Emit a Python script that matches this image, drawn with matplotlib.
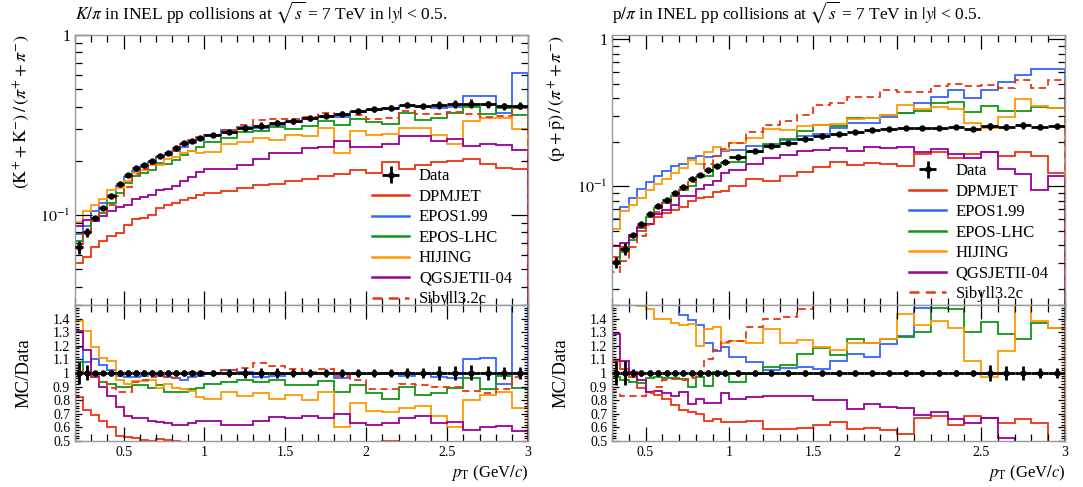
import numpy as np
import matplotlib
matplotlib.use("Agg")
import matplotlib.pyplot as plt
from matplotlib.lines import Line2D
from matplotlib.ticker import MultipleLocator, FuncFormatter, NullFormatter, LogLocator

plt.rcParams['font.family'] = 'serif'
plt.rcParams['font.serif'] = ['Liberation Serif', 'DejaVu Serif']
plt.rcParams['mathtext.fontset'] = 'stix'

# ---- K/pi panel ----
edges_k = [0.20, 0.25, 0.30, 0.35, 0.40, 0.45, 0.50, 0.55, 0.60, 0.65, 0.70, 0.75,
           0.80, 0.85, 0.90, 0.95, 1.0, 1.1, 1.2, 1.3, 1.4, 1.5, 1.6, 1.7, 1.8, 1.9,
           2.0, 2.1, 2.2, 2.3, 2.4, 2.5, 2.6, 2.7, 2.8, 2.9, 3.0]
data_k = [0.066, 0.080, 0.096, 0.110, 0.127, 0.148, 0.167, 0.182, 0.189, 0.199, 0.214, 0.222,
          0.235, 0.250, 0.259, 0.268, 0.278, 0.289, 0.305, 0.314, 0.324, 0.331, 0.345, 0.356,
          0.366, 0.377, 0.387, 0.395, 0.410, 0.402, 0.407, 0.413, 0.416, 0.412, 0.402, 0.405]
relerr_k = [0.08, 0.055, 0.015, 0.015, 0.02, 0.025, 0.025, 0.025, 0.025, 0.025, 0.025, 0.025,
            0.025, 0.025, 0.025, 0.025, 0.025, 0.03, 0.04, 0.04, 0.04, 0.03, 0.03, 0.03,
            0.03, 0.03, 0.03, 0.03, 0.035, 0.035, 0.05, 0.05, 0.055, 0.05, 0.045, 0.045]
dpmjet_k = [0.0541, 0.0584, 0.0662, 0.0715, 0.0762, 0.0799, 0.0885, 0.0946, 0.0964, 0.0995, 0.110, 0.113,
            0.117, 0.121, 0.124, 0.129, 0.133, 0.136, 0.142, 0.146, 0.149, 0.154, 0.159, 0.164,
            0.169, 0.178, 0.171, 0.196, 0.179, 0.190, 0.198, 0.200, 0.205, 0.192, 0.182, 0.180]
epos199_k = [0.0785, 0.0864, 0.1056, 0.1166, 0.1295, 0.145, 0.162, 0.1765, 0.1852, 0.197, 0.2097, 0.2153,
             0.2256, 0.2375, 0.2512, 0.2626, 0.278, 0.2948, 0.308, 0.3046, 0.3175, 0.3277, 0.345, 0.356,
             0.3514, 0.3732, 0.3831, 0.395, 0.4018, 0.398, 0.3948, 0.3965, 0.4576, 0.4573, 0.3698, 0.6116]
eposlhc_k = [0.0713, 0.080, 0.096, 0.1023, 0.1168, 0.1332, 0.1503, 0.1656, 0.172, 0.1771, 0.195, 0.1909,
             0.2021, 0.215, 0.2279, 0.2385, 0.2558, 0.2688, 0.2898, 0.292, 0.3078, 0.3012, 0.314, 0.3346,
             0.3148, 0.3431, 0.329, 0.32, 0.369, 0.3377, 0.346, 0.3676, 0.3994, 0.3626, 0.392, 0.3605]
hijing_k = [0.0911, 0.1048, 0.1142, 0.1221, 0.1384, 0.1406, 0.1536, 0.1711, 0.1777, 0.1891, 0.1905, 0.2042,
            0.2092, 0.220, 0.2253, 0.2198, 0.2252, 0.2485, 0.2532, 0.2669, 0.2624, 0.278, 0.276, 0.3062,
            0.2196, 0.2941, 0.2786, 0.2805, 0.3034, 0.3055, 0.2768, 0.2478, 0.3328, 0.3461, 0.3457, 0.2997]
qgsjet_k = [0.0865, 0.0936, 0.0931, 0.099, 0.1054, 0.111, 0.1136, 0.1219, 0.1266, 0.1294, 0.137, 0.1399,
            0.1457, 0.155, 0.1632, 0.1742, 0.1807, 0.1792, 0.1891, 0.2041, 0.2203, 0.2218, 0.2346, 0.2385,
            0.2562, 0.2375, 0.2399, 0.2489, 0.2747, 0.2734, 0.2564, 0.2643, 0.2413, 0.2472, 0.2452, 0.2309]
sibyll_k = [0.0686, 0.080, 0.0941, 0.1023, 0.113, 0.1273, 0.1436, 0.1693, 0.1796, 0.193, 0.2097, 0.2153,
            0.2256, 0.2475, 0.2616, 0.2707, 0.278, 0.2948, 0.3172, 0.336, 0.3402, 0.3409, 0.3485, 0.3667,
            0.3587, 0.3582, 0.3406, 0.3476, 0.3772, 0.3658, 0.3663, 0.3717, 0.3619, 0.3502, 0.3538, 0.3929]

# ---- p/pi panel ----
edges_p = [0.30, 0.35, 0.40, 0.45, 0.50, 0.55, 0.60, 0.65, 0.70, 0.75, 0.80, 0.85, 0.90, 0.95,
           1.0, 1.1, 1.2, 1.3, 1.4, 1.5, 1.6, 1.7, 1.8, 1.9, 2.0, 2.1, 2.2, 2.3, 2.4, 2.5,
           2.6, 2.7, 2.8, 2.9, 3.0]
data_p = [0.0305, 0.0377, 0.0464, 0.0556, 0.0647, 0.0740, 0.0808, 0.0897, 0.0994, 0.1114, 0.1192, 0.130,
          0.1386, 0.146, 0.1585, 0.174, 0.187, 0.198, 0.209, 0.220, 0.228, 0.235, 0.241, 0.245,
          0.249, 0.249, 0.251, 0.253, 0.246, 0.256, 0.254, 0.260, 0.254, 0.256]
relerr_p = [0.09, 0.09, 0.03, 0.02, 0.02, 0.02, 0.02, 0.02, 0.02, 0.02, 0.02, 0.02,
            0.02, 0.02, 0.02, 0.02, 0.02, 0.025, 0.025, 0.025, 0.025, 0.025, 0.025, 0.025,
            0.025, 0.025, 0.025, 0.025, 0.025, 0.06, 0.05, 0.05, 0.04, 0.04]
dpmjet_p = [0.0332, 0.0388, 0.045, 0.0495, 0.0556, 0.0622, 0.0654, 0.0686, 0.0726, 0.0797, 0.0834, 0.0845,
            0.0922, 0.0934, 0.1008, 0.1131, 0.1094, 0.1168, 0.1246, 0.1364, 0.1459, 0.1387, 0.1436, 0.1421,
            0.137, 0.1668, 0.1707, 0.1569, 0.1673, 0.1715, 0.160, 0.1716, 0.160, 0.1229]
epos199_p = [0.0601, 0.0724, 0.0835, 0.0956, 0.1074, 0.1184, 0.1269, 0.1372, 0.1421, 0.1548, 0.1609, 0.1586,
             0.1608, 0.1737, 0.1775, 0.1879, 0.1917, 0.2059, 0.2184, 0.2266, 0.2485, 0.2679, 0.2699, 0.2965,
             0.3162, 0.3685, 0.408, 0.454, 0.397, 0.452, 0.509, 0.571, 0.627, 0.630]
eposlhc_p = [0.0296, 0.0358, 0.0432, 0.0517, 0.0621, 0.0718, 0.0776, 0.0861, 0.0949, 0.1003, 0.1156, 0.1177,
             0.140, 0.1445, 0.1474, 0.1723, 0.1954, 0.2099, 0.2383, 0.2596, 0.2576, 0.2938, 0.294, 0.3063,
             0.315, 0.3237, 0.3702, 0.3719, 0.3198, 0.352, 0.3277, 0.325, 0.348, 0.3405]
hijing_p = [0.0512, 0.0679, 0.0752, 0.0828, 0.0951, 0.1036, 0.1131, 0.1229, 0.1342, 0.1515, 0.1430, 0.1716,
            0.1857, 0.1781, 0.1957, 0.2123, 0.2468, 0.2416, 0.2592, 0.2618, 0.2668, 0.2867, 0.294, 0.3063,
            0.3561, 0.3362, 0.3464, 0.3365, 0.2681, 0.2483, 0.2946, 0.390, 0.3505, 0.3405]
qgsjet_p = [0.0392, 0.0411, 0.0469, 0.0528, 0.0556, 0.0644, 0.0687, 0.0745, 0.0855, 0.0858, 0.0966, 0.1014,
            0.1081, 0.1241, 0.1284, 0.1427, 0.1552, 0.1643, 0.1735, 0.176, 0.1824, 0.1727, 0.1856, 0.1838,
            0.1843, 0.1718, 0.1795, 0.167, 0.155, 0.1715, 0.1321, 0.1222, 0.094, 0.1178]
sibyll_p = [0.0262, 0.0313, 0.0385, 0.0461, 0.055, 0.0666, 0.0768, 0.0857, 0.0944, 0.1069, 0.1192, 0.143,
            0.1615, 0.1796, 0.1957, 0.2332, 0.2618, 0.2792, 0.3072, 0.358, 0.368, 0.404, 0.406, 0.450,
            0.436, 0.440, 0.483, 0.497, 0.483, 0.490, 0.470, 0.530, 0.470, 0.525]

names = ["DPMJET", "EPOS1.99", "EPOS-LHC", "HIJING", "QGSJETII-04", "Sibyll3.2c"]
colors = ["#EE3311", "#3366FF", "#109618", "#FF9900", "#990099", "#EE3311"]
styles = ["-", "-", "-", "-", "-", (0, (4, 2.5))]

fig = plt.figure(figsize=(10.83, 4.87), dpi=100)


def log_fmt(v, pos):
    if abs(v - 1) < 1e-9:
        return "1"
    return r"$10^{%d}$" % int(round(np.log10(v)))


def draw_panel(x0, edges, data, relerr, mcs, title, ylabel, ylim, leg_y):
    edges = np.array(edges)
    data = np.array(data)
    relerr = np.array(relerr)
    centers = 0.5 * (edges[1:] + edges[:-1])
    half = 0.5 * (edges[1:] - edges[:-1])

    ax = fig.add_axes([x0, 0.3737, 0.4183, 0.5544])
    rx = fig.add_axes([x0, 0.0945, 0.4183, 0.2793], sharex=ax)

    handles = []
    for vals, name, c, ls in zip(mcs, names, colors, styles):
        vals = np.array(vals)
        ax.stairs(vals, edges, color=c, ls=ls, lw=1.3)
        rx.stairs(vals / data, edges, color=c, ls=ls, lw=1.3)
        handles.append(Line2D([], [], color=c, ls=ls, lw=1.8))

    d = ax.errorbar(centers, data, xerr=half, yerr=data * relerr, fmt='o', color='black',
                    ms=3.6, elinewidth=2, capsize=0, zorder=10)
    rx.errorbar(centers, np.ones_like(data), xerr=half, yerr=relerr, fmt='o', color='black',
                ms=3.6, elinewidth=2, capsize=0, zorder=10)

    ax.set_yscale('log')
    ax.set_ylim(*ylim)
    ax.set_xlim(edges[0], edges[-1])
    rx.set_ylim(0.5, 1.5)

    ax.yaxis.set_major_locator(LogLocator(base=10, numticks=10))
    ax.yaxis.set_minor_locator(LogLocator(base=10, subs=np.arange(2, 10), numticks=10))
    ax.yaxis.set_major_formatter(FuncFormatter(log_fmt))
    ax.yaxis.set_minor_formatter(NullFormatter())
    rx.xaxis.set_major_locator(MultipleLocator(0.5))
    rx.xaxis.set_minor_locator(MultipleLocator(0.1))
    rx.xaxis.set_major_formatter(FuncFormatter(lambda v, p: "%g" % v))
    rx.yaxis.set_major_locator(MultipleLocator(0.1))
    rx.yaxis.set_minor_locator(MultipleLocator(0.02))
    rx.yaxis.set_major_formatter(FuncFormatter(lambda v, p: "%g" % round(v, 2) if v < 1.45 else ""))

    for a in (ax, rx):
        a.tick_params(which='both', direction='in', top=True, right=True, color='black',
                      width=0.9, labelsize=10)
        for s in a.spines.values():
            s.set_color('#999999')
            s.set_linewidth(1.0)
    ax.tick_params(axis='x', which='major', length=10, labelbottom=False)
    ax.tick_params(axis='x', which='minor', length=5)
    ax.tick_params(axis='y', which='major', length=12, labelsize=11.5)
    ax.tick_params(axis='y', which='minor', length=5)
    rx.tick_params(axis='x', which='major', length=10)
    rx.tick_params(axis='x', which='minor', length=5)
    rx.tick_params(axis='y', which='major', length=5)
    rx.tick_params(axis='y', which='minor', length=3)

    ax.set_title(title, loc='left', fontsize=12.5, pad=12)
    ax.set_ylabel(ylabel, loc='top', fontsize=13)
    ax.yaxis.set_label_coords(-0.095, 1.0)
    rx.set_ylabel("MC/Data", fontsize=13.5)
    rx.yaxis.set_label_coords(-0.095, 0.5)
    rx.set_xlabel(r"$p_\mathrm{T}$ (GeV$/c$)", loc='right', fontsize=12, labelpad=3)

    ax.legend([d] + handles, ["Data"] + names, loc='upper left', bbox_to_anchor=(0.656, leg_y),
              frameon=False, fontsize=12, borderpad=0, borderaxespad=0, handlelength=2.2,
              handletextpad=0.6, labelspacing=0.27)


draw_panel(0.0693, edges_k, data_k, relerr_k,
           [dpmjet_k, epos199_k, eposlhc_k, hijing_k, qgsjet_k, sibyll_k],
           r"$K/\pi$ in INEL pp collisions at $\sqrt{s}$ = 7 TeV in $|y|$ < 0.5.",
           r"$(\mathrm{K}^{+} + \mathrm{K}^{-})\,/\,(\pi^{+} + \pi^{-})$",
           (0.0316, 1.0), 0.506)
draw_panel(0.5651, edges_p, data_p, relerr_p,
           [dpmjet_p, epos199_p, eposlhc_p, hijing_p, qgsjet_p, sibyll_p],
           r"p$/\pi$ in INEL pp collisions at $\sqrt{s}$ = 7 TeV in $|y|$ < 0.5.",
           r"$(\mathrm{p} + \bar{\mathrm{p}})\,/\,(\pi^{+} + \pi^{-})$",
           (0.0156, 1.07), 0.525)

fig.savefig("out.png", dpi=100)
